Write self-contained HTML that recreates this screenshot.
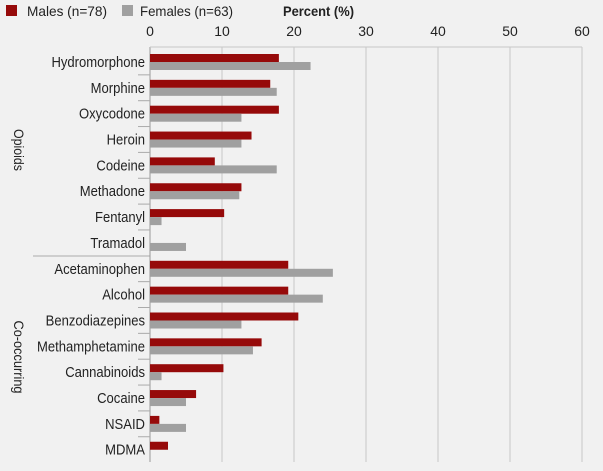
<!DOCTYPE html>
<html><head><meta charset="utf-8"><style>
body{margin:0;background:#f1f1f1;}
svg{display:block;font-family:"Liberation Sans",sans-serif;}
</style></head><body>
<svg id="c" width="603" height="471">
<rect width="603" height="471" fill="#f1f1f1"/>
<g>
<rect x="6" y="5" width="11" height="11" fill="#960a0a"/>
<text x="27" y="16" font-size="14" fill="#222" textLength="80" lengthAdjust="spacingAndGlyphs">Males (n=78)</text>
<rect x="122" y="5" width="11" height="11" fill="#a0a0a0"/>
<text x="140" y="16" font-size="14" fill="#222" textLength="93" lengthAdjust="spacingAndGlyphs">Females (n=63)</text>
</g>
<text x="283" y="16" font-size="14" font-weight="bold" fill="#222" textLength="71" lengthAdjust="spacingAndGlyphs">Percent (%)</text>
<text transform="translate(14,150) rotate(90)" font-size="14" text-anchor="middle" fill="#222" textLength="42" lengthAdjust="spacingAndGlyphs">Opioids</text>
<text transform="translate(14,357) rotate(90)" font-size="14" text-anchor="middle" fill="#222" textLength="73" lengthAdjust="spacingAndGlyphs">Co-occurring</text>
<line x1="33" y1="256" x2="150" y2="256" stroke="#aaa"/>
<g id="grid"></g><g id="bars"></g><g id="labels" transform="scale(0.9,1)"></g>
</svg>
<script>
const categories=["Hydromorphone","Morphine","Oxycodone","Heroin","Codeine","Methadone","Fentanyl","Tramadol","Acetaminophen","Alcohol","Benzodiazepines","Methamphetamine","Cannabinoids","Cocaine","NSAID","MDMA"];
const males=[17.9,16.7,17.9,14.1,9.0,12.7,10.3,0,19.2,19.2,20.6,15.5,10.2,6.4,1.3,2.5];
const females=[22.3,17.6,12.7,12.7,17.6,12.4,1.6,5.0,25.4,24.0,12.7,14.3,1.6,5.0,5.0,0];
const ticks=[0,10,20,30,40,50,60];
const NS="http://www.w3.org/2000/svg";
const xs=v=>150+v*7.2;
const ys=i=>62+i*25.85;
function mk(t,a,p){const e=document.createElementNS(NS,t);for(const k in a)e.setAttribute(k,a[k]);p.appendChild(e);return e;}
const gg=document.getElementById('grid'),bb=document.getElementById('bars'),ll=document.getElementById('labels');
ticks.forEach(t=>{
 const ln=mk('line',{x1:xs(t),x2:xs(t),y1:47,y2:462,stroke:t===0?'#999':'#c8c8c8'},gg);
 
 
 const tx=mk('text',{x:xs(t),y:36,'font-size':14,'text-anchor':'middle',fill:'#222'},gg);tx.textContent=t;
 
 
});
const topLine=mk('line',{x1:150,x2:582,y1:47,y2:47,stroke:'#c8c8c8'},gg);


categories.forEach((c,i)=>{
 const cy=ys(i);
 const m=mk('rect',{x:150,y:cy-8,width:xs(males[i])-150,height:8,fill:'#960a0a'},bb);
 
 
 const f=mk('rect',{x:150,y:cy,width:xs(females[i])-150,height:8,fill:'#a0a0a0'},bb);
 
 
 const t=mk('text',{x:(145/0.9).toFixed(1),y:cy+5,'font-size':14.5,'text-anchor':'end',fill:'#222'},ll);t.textContent=c;
 
 
 if(i>0&&i!==8){const tk=mk('line',{x1:138,x2:150,y1:cy-13,y2:cy-13,stroke:'#aaa'},gg);
 
 }
});
</script>
</body></html>
